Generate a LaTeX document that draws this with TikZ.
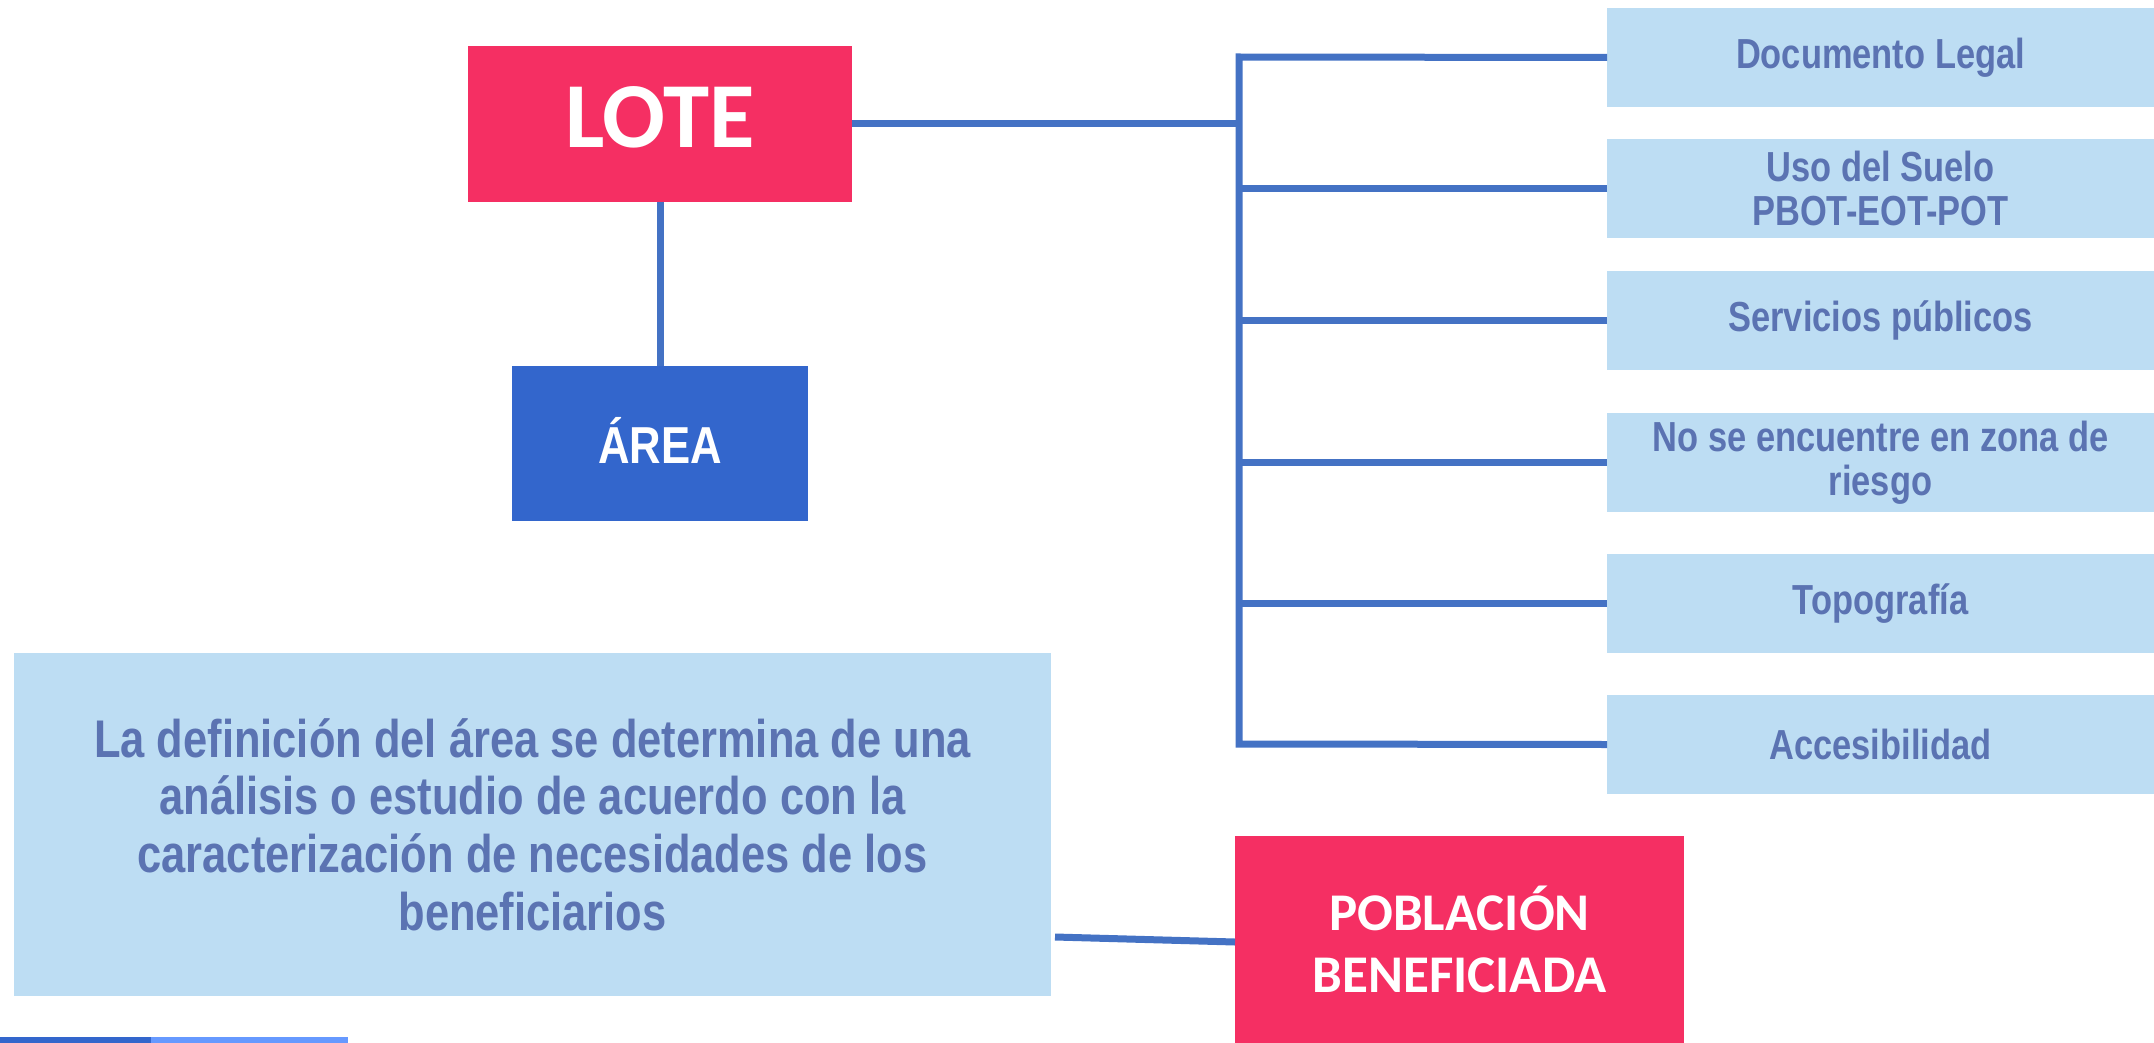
\documentclass[tikz,border=0pt]{standalone}
\usepackage{fontspec}
\newfontfamily\narrowfont[FakeStretch=0.82]{Liberation Sans}
\newfontfamily\areafont[FakeStretch=0.84]{Liberation Sans}
\newfontfamily\calfont{Carlito}
\definecolor{pinkc}{RGB}{245,47,99}
\definecolor{areac}{RGB}{51,102,204}
\definecolor{lightc}{RGB}{189,221,243}
\definecolor{slatec}{RGB}{91,115,178}
\definecolor{linec}{RGB}{68,114,196}
\definecolor{stripdark}{RGB}{51,102,204}
\definecolor{striplight}{RGB}{102,153,255}
\tikzset{
  box/.style={rectangle, inner sep=0pt, outer sep=0pt, anchor=north west, align=center},
  lightbox/.style={box, fill=lightc, text=slatec,
    font=\narrowfont\bfseries\fontsize{42}{44}\selectfont,
    minimum width=547pt, minimum height=99pt},
  conn/.style={draw=linec, line width=7pt},
}
\begin{document}
\begin{tikzpicture}[x=1pt,y=-1pt]
\useasboundingbox (0,0) rectangle (2154,1043);
% main boxes
\node[box, fill=pinkc, text=white, minimum width=384pt, minimum height=156pt,
  font=\calfont\bfseries\fontsize{93}{100}\selectfont,
  text height=60pt, text depth=13pt] (lote) at (468,46) {LOTE};
\node[box, fill=areac, text=white, minimum width=296pt, minimum height=155pt,
  font=\areafont\bfseries\fontsize{52}{56}\selectfont,
  text height=40pt, text depth=0pt] (area) at (512,366) {ÁREA};
% right boxes
\node[lightbox] (b1) at (1607,8) {Documento Legal};
\node[lightbox] (b2) at (1607,139) {Uso del Suelo\\PBOT-EOT-POT};
\node[lightbox] (b3) at (1607,271) {Servicios públicos};
\node[lightbox] (b4) at (1607,413) {No se encuentre en zona de\\riesgo};
\node[lightbox] (b5) at (1607,554) {Topografía};
\node[lightbox] (b6) at (1607,695) {Accesibilidad};
% description box
\node[box, fill=lightc, text=slatec, minimum width=1037pt, minimum height=343pt,
  font=\narrowfont\bfseries\fontsize{53}{57.7}\selectfont] (txt) at (14,653)
  {La definición del área se determina de una\\análisis o estudio de acuerdo con la\\caracterización de necesidades de los\\beneficiarios};
% poblacion
\node[box, fill=pinkc, text=white, minimum width=449pt, minimum height=207pt,
  font=\calfont\bfseries\fontsize{53}{62}\selectfont] (pob) at (1235,836)
  {POBLACIÓN\\BENEFICIADA};
% trunk
\coordinate (trtop) at (1239,57);
\coordinate (trbot) at (1239,744);
\draw[conn, line join=miter] (b1.west) -- (trtop) -- (trbot) -- (b6.west);
\draw[conn] (b2.west) -- (b2.west -| trtop);
\draw[conn] (b3.west) -- (b3.west -| trtop);
\draw[conn] (b4.west) -- (b4.west -| trtop);
\draw[conn] (b5.west) -- (b5.west -| trtop);
\draw[conn] (lote.east) -- (lote.east -| trtop);
\draw[conn] (lote.south) -- (area.north);
\draw[conn] ([xshift=4pt,yshift=-112.5pt]txt.east) -- ([yshift=-2.5pt]pob.west);
% bottom strip
\fill[stripdark] (0,1037) rectangle (151,1043);
\fill[striplight] (151,1037) rectangle (348,1043);
\end{tikzpicture}
\end{document}
